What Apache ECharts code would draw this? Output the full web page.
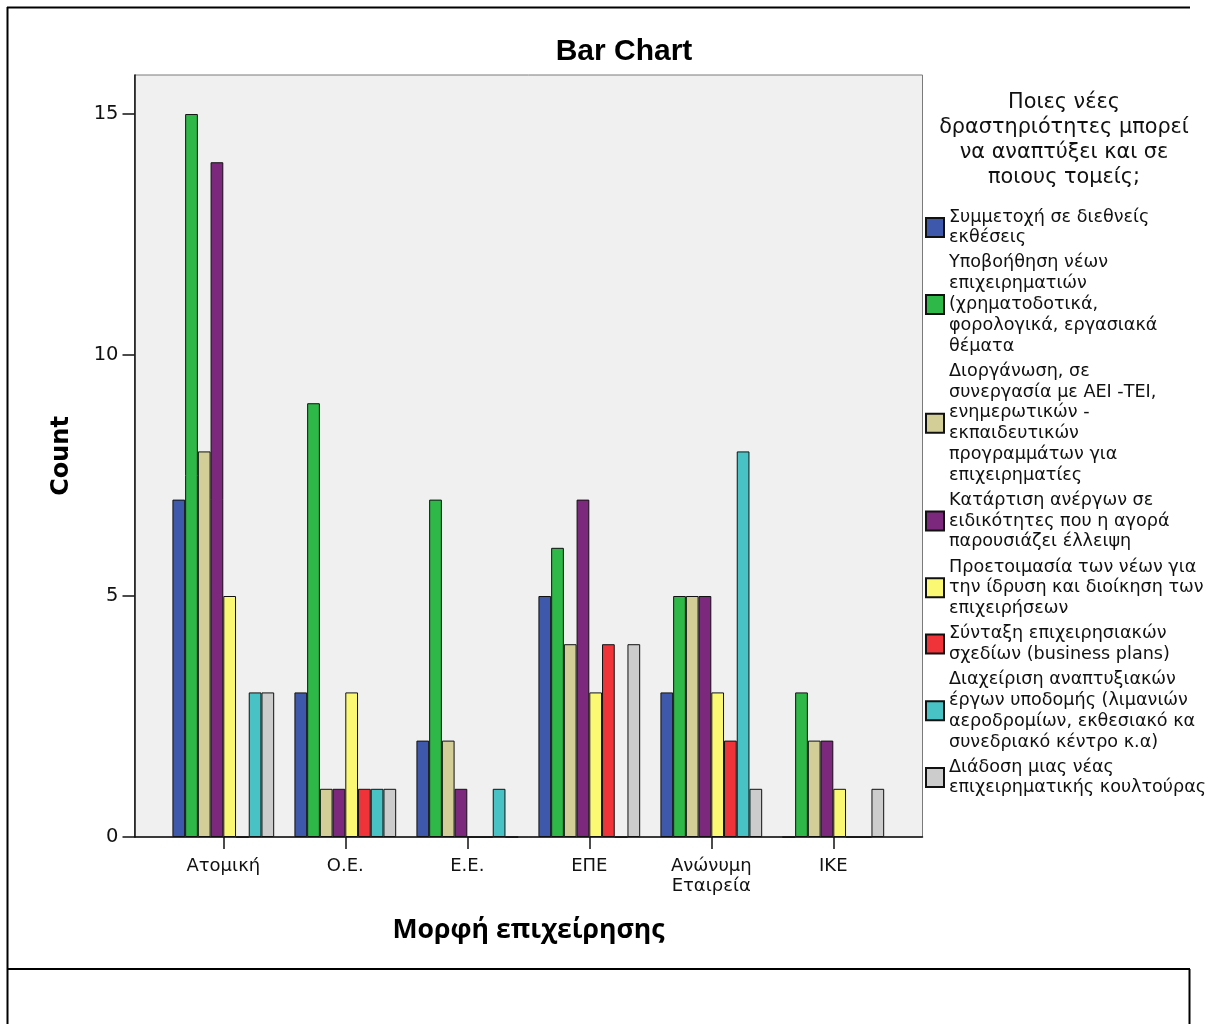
<!DOCTYPE html>
<html>
<head>
<meta charset="utf-8">
<script src="https://cdn.jsdelivr.net/npm/echarts@6/dist/echarts.min.js"></script>
<style>
html,body{margin:0;padding:0;background:#fff;}
#chart{width:1211px;height:1024px;}
</style>
</head>
<body>
<div id="chart"></div>
<script>
// ---- data ----
var categories = ['Ατομική', 'Ο.Ε.', 'Ε.Ε.', 'ΕΠΕ', 'Ανώνυμη\nΕταιρεία', 'ΙΚΕ'];
var seriesNames = [
  'Συμμετοχή σε διεθνείς\nεκθέσεις',
  'Υποβοήθηση νέων\nεπιχειρηματιών\n(χρηματοδοτικά,\nφορολογικά, εργασιακά\nθέματα',
  'Διοργάνωση, σε\nσυνεργασία με ΑΕΙ -ΤΕΙ,\nενημερωτικών -\nεκπαιδευτικών\nπρογραμμάτων για\nεπιχειρηματίες',
  'Κατάρτιση ανέργων σε\nειδικότητες που η αγορά\nπαρουσιάζει έλλειψη',
  'Προετοιμασία των νέων για\nτην ίδρυση και διοίκηση των\nεπιχειρήσεων',
  'Σύνταξη επιχειρησιακών\nσχεδίων (business plans)',
  'Διαχείριση αναπτυξιακών\nέργων υποδομής (λιμανιών\nαεροδρομίων, εκθεσιακό κα\nσυνεδριακό κέντρο κ.α)',
  'Διάδοση μιας νέας\nεπιχειρηματικής κουλτούρας'
];
var participation  = [7, 3, 2, 5, 3, 0];
var support        = [15, 9, 7, 6, 5, 3];
var organization   = [8, 1, 2, 4, 5, 2];
var training       = [14, 1, 1, 7, 5, 2];
var preparation    = [5, 3, 0, 3, 3, 1];
var plans          = [0, 1, 0, 4, 2, 0];
var infrastructure = [3, 1, 1, 0, 8, 0];
var culture        = [3, 1, 0, 4, 1, 1];
var yTicks = [0, 5, 10, 15];
var legendTitle = 'Ποιες νέες\nδραστηριότητες μπορεί\nνα αναπτύξει και σε\nποιους τομείς;';
var colors = ['#3e58ac', '#2eb848', '#d3ce97', '#7c287d', '#fbf873', '#ef3338', '#48c2c5', '#cccccc'];

var allValues = [participation, support, organization, training, preparation, plans, infrastructure, culture];

var chart = echarts.init(document.getElementById('chart'), null, {renderer: 'canvas'});

var series = allValues.map(function (vals, i) {
  return {
    name: seriesNames[i],
    type: 'bar',
    xAxisIndex: 1,
    yAxisIndex: 1,
    data: vals,
    barGap: '0%',
    barCategoryGap: '16.6%',
    itemStyle: {color: colors[i], borderColor: '#111', borderWidth: 1},
    emphasis: {disabled: true},
    animation: false
  };
});

var option = {
  animation: false,
  backgroundColor: '#ffffff',
  title: [
    {
      text: 'Bar Chart',
      left: 624, top: 36, textAlign: 'center', padding: 0,
      textStyle: {fontFamily: 'Liberation Sans', fontWeight: 'bold', fontSize: 30, color: '#000', lineHeight: 32}
    },
    {
      text: legendTitle,
      left: 1064, top: 90.5, textAlign: 'center', padding: 0,
      textStyle: {fontFamily: 'DejaVu Sans', fontWeight: 'normal', fontSize: 20.8, color: '#111', lineHeight: 25}
    }
  ],
  legend: {
    orient: 'vertical',
    left: 925, top: 206.6, padding: 0,
    itemWidth: 18, itemHeight: 19, itemGap: 4.3,
    icon: 'rect',
    selectedMode: false,
    textStyle: {fontFamily: 'DejaVu Sans', fontSize: 17.6, lineHeight: 20.8, color: '#111'},
    data: seriesNames
  },
  grid: [
    {left: 134.5, top: 75, width: 788, height: 762, show: true, backgroundColor: '#f0f0f0', borderColor: '#7a7a7a', borderWidth: 1},
    {left: 162.3, top: 75, width: 732, height: 762}
  ],
  xAxis: [
    {
      gridIndex: 0, type: 'value', min: 0, max: 1,
      axisLine: {show: true, lineStyle: {color: '#111', width: 1.5}},
      axisTick: {show: false}, axisLabel: {show: false}, splitLine: {show: false},
      name: 'Μορφή επιχείρησης', nameLocation: 'middle', nameGap: 80,
      nameTextStyle: {fontFamily: 'Open Sans', fontWeight: 'bold', fontSize: 26.6, color: '#000'}
    },
    {
      gridIndex: 1, type: 'category', data: categories,
      axisLine: {show: false},
      axisTick: {show: true, alignWithLabel: true, length: 12, lineStyle: {color: '#111', width: 1.5}},
      axisLabel: {interval: 0, margin: 19, fontFamily: 'DejaVu Sans', fontSize: 18, lineHeight: 20, color: '#111'},
      splitLine: {show: false}
    }
  ],
  yAxis: [
    {
      gridIndex: 0, type: 'value', min: 0, max: 15.81,
      axisLine: {show: true, lineStyle: {color: '#111', width: 1.5}},
      axisTick: {show: true, length: 12, customValues: yTicks, lineStyle: {color: '#111', width: 1.5}},
      axisLabel: {customValues: yTicks, margin: 16, fontFamily: 'DejaVu Sans', fontSize: 19.5, color: '#111'},
      splitLine: {show: false},
      name: 'Count', nameLocation: 'middle', nameGap: 61,
      nameTextStyle: {fontFamily: 'DejaVu Sans', fontWeight: 'bold', fontSize: 24, color: '#000'}
    },
    {gridIndex: 1, type: 'value', min: 0, max: 15.81, show: false}
  ],
  graphic: [
    {type: 'line', shape: {x1: 7, y1: 7.5, x2: 1190, y2: 7.5}, style: {stroke: '#000', lineWidth: 2}},
    {type: 'line', shape: {x1: 7.5, y1: 7, x2: 7.5, y2: 1024}, style: {stroke: '#000', lineWidth: 2}},
    {type: 'line', shape: {x1: 7, y1: 969, x2: 1190, y2: 969}, style: {stroke: '#000', lineWidth: 2}},
    {type: 'line', shape: {x1: 1189.5, y1: 969, x2: 1189.5, y2: 1024}, style: {stroke: '#000', lineWidth: 2}}
  ],
  series: series
};
chart.setOption(option);
</script>
</body>
</html>
